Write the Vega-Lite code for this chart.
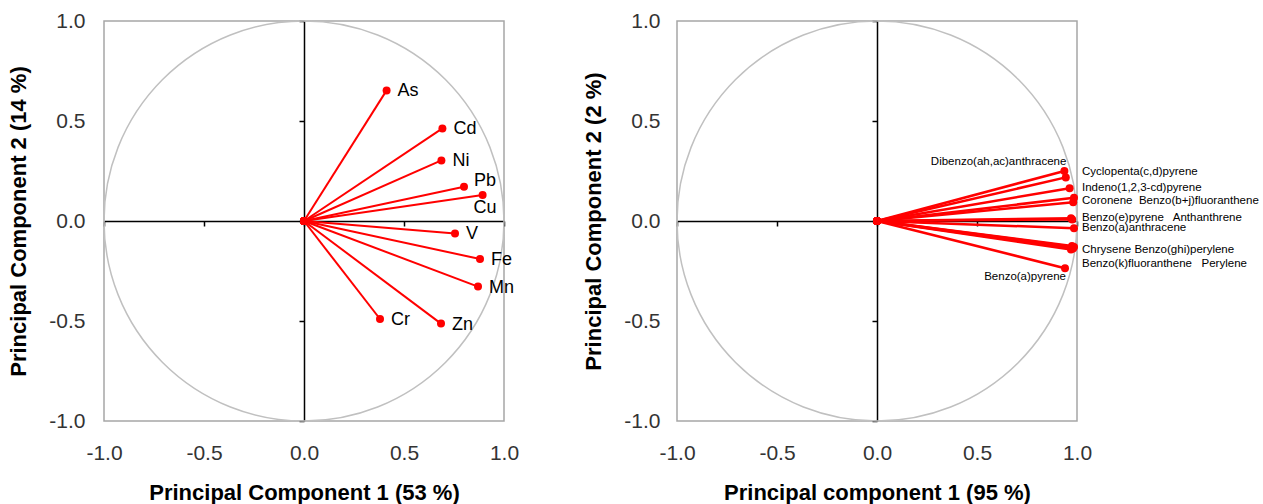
{
  "$schema": "https://vega.github.io/schema/vega-lite/v6.json",
  "padding": {"left": 7, "top": 9, "right": 0, "bottom": 0},
  "autosize": {"type": "pad"},
  "spacing": 62,
  "datasets": {
    "metals": [
      {"element": "As", "x": 0.413, "y": 0.653},
      {"element": "Cd", "x": 0.692, "y": 0.463},
      {"element": "Ni", "x": 0.687, "y": 0.303},
      {"element": "Pb", "x": 0.8, "y": 0.171},
      {"element": "Cu", "x": 0.893, "y": 0.13},
      {"element": "V", "x": 0.755, "y": -0.062},
      {"element": "Fe", "x": 0.88, "y": -0.19},
      {"element": "Mn", "x": 0.87, "y": -0.328},
      {"element": "Cr", "x": 0.38, "y": -0.49},
      {"element": "Zn", "x": 0.685, "y": -0.513}
    ],
    "pahs": [
      {"compound": "Dibenzo(ah,ac)anthracene", "x": 0.937, "y": 0.25, "label": "Dibenzo(ah,ac)anthracene"},
      {"compound": "Cyclopenta(c,d)pyrene", "x": 0.944, "y": 0.218, "label": "Cyclopenta(c,d)pyrene"},
      {"compound": "Indeno(1,2,3-cd)pyrene", "x": 0.963, "y": 0.164, "label": "Indeno(1,2,3-cd)pyrene"},
      {"compound": "Coronene", "x": 0.985, "y": 0.116, "label": "Coronene\u00a0 Benzo(b+j)fluoranthene"},
      {"compound": "Benzo(b+j)fluoranthene", "x": 0.981, "y": 0.094, "label": ""},
      {"compound": "Benzo(e)pyrene", "x": 0.97, "y": 0.014, "label": "Benzo(e)pyrene\u00a0\u00a0 Anthanthrene"},
      {"compound": "Anthanthrene", "x": 0.976, "y": 0.008, "label": ""},
      {"compound": "Benzo(a)anthracene", "x": 0.985, "y": -0.036, "label": "Benzo(a)anthracene"},
      {"compound": "Chrysene", "x": 0.975, "y": -0.125, "label": "Chrysene Benzo(ghi)perylene"},
      {"compound": "Benzo(ghi)perylene", "x": 0.985, "y": -0.13, "label": ""},
      {"compound": "Benzo(k)fluoranthene", "x": 0.97, "y": -0.143, "label": "Benzo(k)fluoranthene\u00a0\u00a0 Perylene"},
      {"compound": "Perylene", "x": 0.98, "y": -0.137, "label": ""},
      {"compound": "Benzo(a)pyrene", "x": 0.94, "y": -0.236, "label": "Benzo(a)pyrene"}
    ]
  },
  "hconcat": [
    {
      "width": 400,
      "height": 400,
      "data": {"name": "metals"},
      "layer": [
        {
          "data": {"values": [{"r": 1}]},
          "mark": {"type": "point", "shape": "circle", "size": 160000, "filled": false, "stroke": "#C0C0C0", "strokeWidth": 1.5, "opacity": 1},
          "encoding": {
            "x": {"datum": 0, "type": "quantitative", "scale": {"domain": [-1, 1], "nice": false, "zero": false},
              "axis": {"orient": "bottom", "title": "Principal Component 1 (53 %)", "domain": false, "ticks": false, "tickSize": 0, "labelPadding": 21, "titlePadding": 19, "values": [-1, -0.5, 0, 0.5, 1], "labelExpr": "datum.value < 0 ? '-' + format(-datum.value, '.1f') : format(datum.value, '.1f')", "labelFlush": false, "grid": false}},
            "y": {"datum": 0, "type": "quantitative", "scale": {"domain": [-1, 1], "nice": false, "zero": false},
              "axis": {"orient": "left", "title": "Principal Component 2 (14 %)", "domain": false, "ticks": false, "tickSize": 0, "labelPadding": 19, "titlePadding": 18, "values": [-1, -0.5, 0, 0.5, 1], "labelExpr": "datum.value < 0 ? '-' + format(-datum.value, '.1f') : format(datum.value, '.1f')", "labelFlush": false, "grid": false}}
          }
        },
        {
          "mark": {"type": "rule", "color": "#FF0000", "strokeWidth": 2},
          "encoding": {
            "x": {"field": "x", "type": "quantitative",
              "axis": {"orient": "bottom", "offset": -200, "title": null, "labels": false, "domain": true, "domainColor": "#000000", "domainWidth": 1.5, "ticks": true, "tickColor": "#000000", "tickSize": 5, "tickWidth": 1.5, "values": [-1, -0.5, 0, 0.5, 1], "grid": false}},
            "y": {"field": "y", "type": "quantitative",
              "axis": {"orient": "left", "offset": -200, "title": null, "labels": false, "domain": true, "domainColor": "#000000", "domainWidth": 1.5, "ticks": true, "tickColor": "#000000", "tickSize": 5, "tickWidth": 1.5, "values": [-1, -0.5, 0, 0.5, 1], "grid": false}},
            "x2": {"datum": 0},
            "y2": {"datum": 0}
          }
        },
        {
          "mark": {"type": "circle", "color": "#FF0000", "size": 64, "opacity": 1},
          "encoding": {
            "x": {"field": "x", "type": "quantitative", "axis": null},
            "y": {"field": "y", "type": "quantitative", "axis": null}
          }
        },
        {
          "mark": {"type": "circle", "color": "#FF0000", "size": 64, "opacity": 1},
          "encoding": {
            "x": {"datum": 0, "type": "quantitative", "axis": null},
            "y": {"datum": 0, "type": "quantitative", "axis": null}
          }
        },
        {
          "transform": [{"filter": {"not": {"field": "element", "oneOf": ["Pb", "Cu"]}}}],
          "mark": {"type": "text", "align": "left", "baseline": "middle", "dx": 11, "dy": 1, "fontSize": 18, "color": "#000000"},
          "encoding": {
            "x": {"field": "x", "type": "quantitative", "axis": null},
            "y": {"field": "y", "type": "quantitative", "axis": null},
            "text": {"field": "element"}
          }
        },
        {
          "transform": [{"filter": {"field": "element", "equal": "Pb"}}],
          "mark": {"type": "text", "align": "left", "baseline": "middle", "dx": 10, "dy": -6, "fontSize": 18, "color": "#000000"},
          "encoding": {
            "x": {"field": "x", "type": "quantitative", "axis": null},
            "y": {"field": "y", "type": "quantitative", "axis": null},
            "text": {"field": "element"}
          }
        },
        {
          "transform": [{"filter": {"field": "element", "equal": "Cu"}}],
          "mark": {"type": "text", "align": "left", "baseline": "middle", "dx": -9, "dy": 13, "fontSize": 18, "color": "#000000"},
          "encoding": {
            "x": {"field": "x", "type": "quantitative", "axis": null},
            "y": {"field": "y", "type": "quantitative", "axis": null},
            "text": {"field": "element"}
          }
        }
      ],
      "resolve": {"axis": {"x": "independent", "y": "independent"}}
    },
    {
      "width": 400,
      "height": 400,
      "data": {"name": "pahs"},
      "layer": [
        {
          "data": {"values": [{"r": 1}]},
          "mark": {"type": "point", "shape": "circle", "size": 160000, "filled": false, "stroke": "#C0C0C0", "strokeWidth": 1.5, "opacity": 1},
          "encoding": {
            "x": {"datum": 0, "type": "quantitative", "scale": {"domain": [-1, 1], "nice": false, "zero": false},
              "axis": {"orient": "bottom", "title": "Principal component 1 (95 %)", "domain": false, "ticks": false, "tickSize": 0, "labelPadding": 21, "titlePadding": 19, "values": [-1, -0.5, 0, 0.5, 1], "labelExpr": "datum.value < 0 ? '-' + format(-datum.value, '.1f') : format(datum.value, '.1f')", "labelFlush": false, "grid": false}},
            "y": {"datum": 0, "type": "quantitative", "scale": {"domain": [-1, 1], "nice": false, "zero": false},
              "axis": {"orient": "left", "title": "Principal Component 2 (2 %)", "domain": false, "ticks": false, "tickSize": 0, "labelPadding": 17, "titlePadding": 18, "values": [-1, -0.5, 0, 0.5, 1], "labelExpr": "datum.value < 0 ? '-' + format(-datum.value, '.1f') : format(datum.value, '.1f')", "labelFlush": false, "grid": false}}
          }
        },
        {
          "mark": {"type": "rule", "color": "#FF0000", "strokeWidth": 2.5},
          "encoding": {
            "x": {"field": "x", "type": "quantitative",
              "axis": {"orient": "bottom", "offset": -200, "title": null, "labels": false, "domain": true, "domainColor": "#000000", "domainWidth": 1.5, "ticks": true, "tickColor": "#000000", "tickSize": 5, "tickWidth": 1.5, "values": [-1, -0.5, 0, 0.5, 1], "grid": false}},
            "y": {"field": "y", "type": "quantitative",
              "axis": {"orient": "left", "offset": -200, "title": null, "labels": false, "domain": true, "domainColor": "#000000", "domainWidth": 1.5, "ticks": true, "tickColor": "#000000", "tickSize": 5, "tickWidth": 1.5, "values": [-1, -0.5, 0, 0.5, 1], "grid": false}},
            "x2": {"datum": 0},
            "y2": {"datum": 0}
          }
        },
        {
          "mark": {"type": "circle", "color": "#FF0000", "size": 64, "opacity": 1},
          "encoding": {
            "x": {"field": "x", "type": "quantitative", "axis": null},
            "y": {"field": "y", "type": "quantitative", "axis": null}
          }
        },
        {
          "mark": {"type": "circle", "color": "#FF0000", "size": 64, "opacity": 1},
          "encoding": {
            "x": {"datum": 0, "type": "quantitative", "axis": null},
            "y": {"datum": 0, "type": "quantitative", "axis": null}
          }
        },
        {
          "transform": [{"filter": {"field": "compound", "oneOf": ["Indeno(1,2,3-cd)pyrene", "Benzo(e)pyrene", "Benzo(a)anthracene"]}}],
          "mark": {"type": "text", "align": "left", "baseline": "middle", "dx": 5, "dy": 0, "fontSize": 11.5, "color": "#000000"},
          "encoding": {
            "x": {"datum": 1, "type": "quantitative", "axis": null},
            "y": {"field": "y", "type": "quantitative", "axis": null},
            "text": {"field": "label"}
          }
        },
        {
          "transform": [{"filter": {"field": "compound", "oneOf": ["Coronene", "Chrysene"]}}],
          "mark": {"type": "text", "align": "left", "baseline": "middle", "dx": 5, "dy": 3.5, "fontSize": 11.5, "color": "#000000"},
          "encoding": {
            "x": {"datum": 1, "type": "quantitative", "axis": null},
            "y": {"field": "y", "type": "quantitative", "axis": null},
            "text": {"field": "label"}
          }
        },
        {
          "transform": [{"filter": {"field": "compound", "equal": "Cyclopenta(c,d)pyrene"}}],
          "mark": {"type": "text", "align": "left", "baseline": "middle", "dx": 5, "dy": -5, "fontSize": 11.5, "color": "#000000"},
          "encoding": {
            "x": {"datum": 1, "type": "quantitative", "axis": null},
            "y": {"field": "y", "type": "quantitative", "axis": null},
            "text": {"field": "label"}
          }
        },
        {
          "transform": [{"filter": {"field": "compound", "equal": "Benzo(k)fluoranthene"}}],
          "mark": {"type": "text", "align": "left", "baseline": "middle", "dx": 5, "dy": 14, "fontSize": 11.5, "color": "#000000"},
          "encoding": {
            "x": {"datum": 1, "type": "quantitative", "axis": null},
            "y": {"field": "y", "type": "quantitative", "axis": null},
            "text": {"field": "label"}
          }
        },
        {
          "transform": [{"filter": {"field": "compound", "equal": "Dibenzo(ah,ac)anthracene"}}],
          "mark": {"type": "text", "align": "right", "baseline": "middle", "dx": 2, "dy": -9, "fontSize": 11.5, "color": "#000000"},
          "encoding": {
            "x": {"field": "x", "type": "quantitative", "axis": null},
            "y": {"field": "y", "type": "quantitative", "axis": null},
            "text": {"field": "label"}
          }
        },
        {
          "transform": [{"filter": {"field": "compound", "equal": "Benzo(a)pyrene"}}],
          "mark": {"type": "text", "align": "right", "baseline": "middle", "dx": 1, "dy": 9, "fontSize": 11.5, "color": "#000000"},
          "encoding": {
            "x": {"field": "x", "type": "quantitative", "axis": null},
            "y": {"field": "y", "type": "quantitative", "axis": null},
            "text": {"field": "label"}
          }
        }
      ],
      "resolve": {"axis": {"x": "independent", "y": "independent"}}
    }
  ],
  "config": {
    "font": "Liberation Sans",
    "view": {"stroke": "#A6A6A6", "strokeWidth": 1.5},
    "axis": {"grid": false, "labelFont": "Liberation Sans", "labelFontSize": 21, "labelColor": "#333333", "titleFont": "Liberation Sans", "titleFontSize": 22, "titleFontWeight": "bold", "titleColor": "#000000"}
  }
}
